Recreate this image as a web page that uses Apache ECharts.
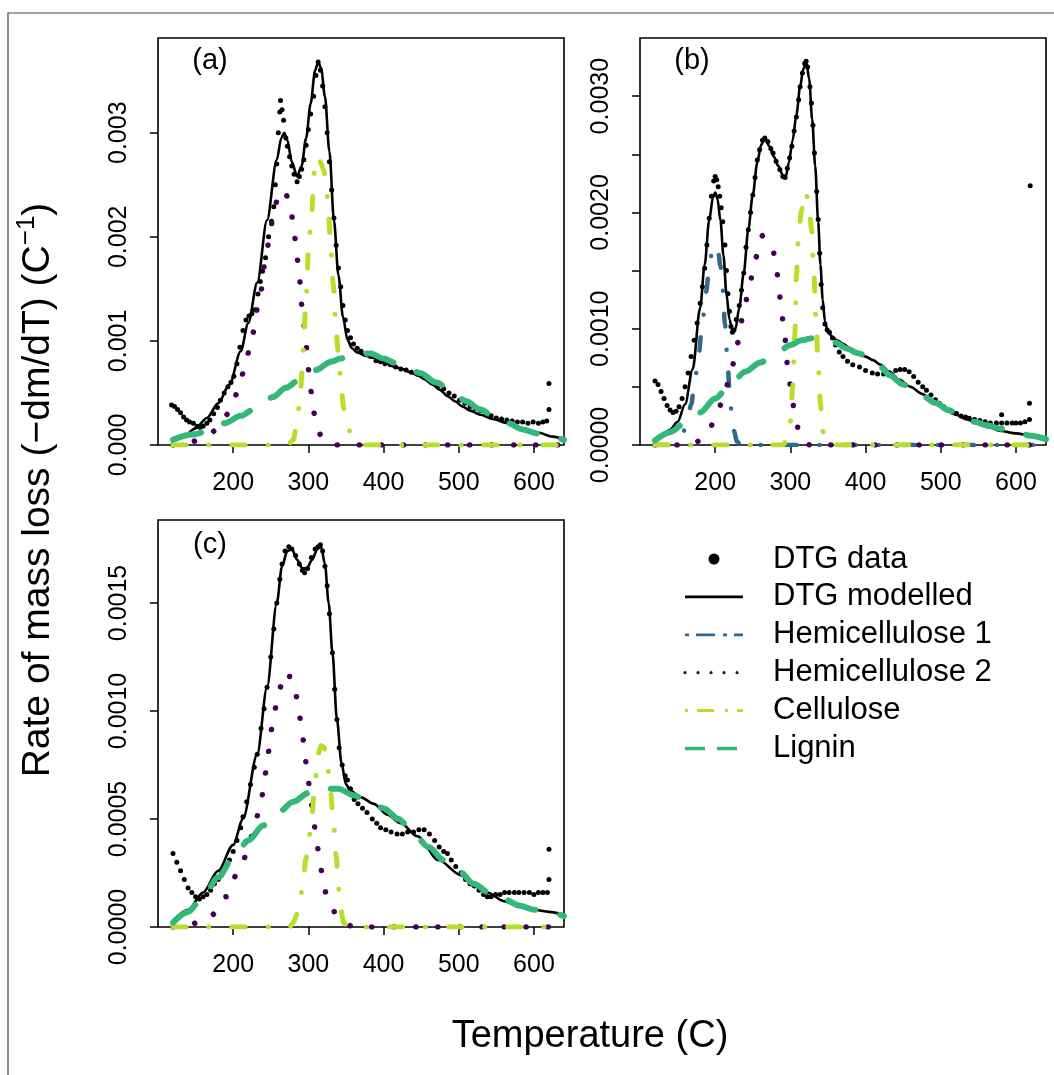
<!DOCTYPE html>
<html><head><meta charset="utf-8">
<script src="https://cdn.jsdelivr.net/npm/echarts@6/dist/echarts.min.js"></script>
<style>html,body{margin:0;padding:0;background:#fff}#chart{width:1054px;height:1075px}</style>
</head><body><div id="chart"></div>
<script>
// ---------- tick values / labels ----------
const xTicks = [200, 300, 400, 500, 600];
const xTickLabels = ['200', '300', '400', '500', '600'];
const yTicksA = [0, 0.001, 0.002, 0.003];
const yTickLabelsA = ['0.000', '0.001', '0.002', '0.003'];
const yTicksB = [0, 0.0005, 0.001, 0.0015, 0.002, 0.0025, 0.003];
const yTickLabelsB = ['0.0000', '', '0.0010', '', '0.0020', '', '0.0030'];
const yTicksC = [0, 0.0005, 0.001, 0.0015];
const yTickLabelsC = ['0.0000', '0.0005', '0.0010', '0.0015'];
const panelLabels = ['(a)', '(b)', '(c)'];
const legendLabels = ['DTG data', 'DTG modelled', 'Hemicellulose 1', 'Hemicellulose 2', 'Cellulose', 'Lignin'];

// ---------- panel (a) ----------
const dtgDataA = [[118,0.000385],[122,0.00037],[126,0.00034],[130,0.00031],[134,0.00027],[138,0.00024],[142,0.00022],[147,0.00021],[152,0.00018],[156,0.00017],[160,0.00018],[165,0.00021],[169,0.00024],[174,0.0003],[179,0.00036],[183,0.00043],[188,0.0005],[193,0.00056],[197,0.0006],[201,0.00066],[205,0.00078],[209,0.00094],[213,0.0011],[217,0.0012],[221,0.00124],[225,0.00126],[229,0.0013],[233,0.00145],[236,0.00157],[239,0.00167],[243,0.0018],[247,0.002],[251,0.00215],[254,0.00229],[256,0.0025],[258,0.0027],[260,0.003],[262,0.0032],[263,0.00331],[265,0.00322],[267,0.00312],[270,0.00295],[272,0.00287],[275,0.00277],[278,0.00268],[281,0.0026],[285,0.00253],[288,0.00258],[291,0.00265],[294,0.00274],[297,0.00288],[300,0.00303],[303,0.00318],[307,0.00335],[310,0.00355],[313,0.00368],[316,0.0036],[319,0.00345],[322,0.00325],[325,0.003],[328,0.00272],[331,0.00245],[334,0.00218],[337,0.00192],[340,0.0017],[343,0.00152],[346,0.00134],[349,0.0012],[352,0.0011],[356,0.00103],[360,0.00097],[365,0.00093],[370,0.0009],[376,0.00087],[383,0.00085],[390,0.00081],[396,0.0008],[402,0.00078],[409,0.00077],[416,0.00075],[423,0.00073],[430,0.00072],[437,0.0007],[445,0.00068],[452,0.00066],[459,0.00063],[466,0.0006],[473,0.00057],[480,0.00054],[487,0.0005],[494,0.00047],[501,0.00043],[508,0.0004],[515,0.00037],[522,0.00035],[529,0.00033],[536,0.0003],[543,0.00028],[550,0.00026],[557,0.00025],[564,0.00024],[571,0.00023],[578,0.00022],[585,0.00022],[592,0.00021],[599,0.00022],[606,0.00021],[612,0.00022],[617,0.00023],[620,0.00034],[620,0.00059]];
const modelA = [[120,0.00004],[135,0.00009],[150,0.00016],[165,0.00026],[180,0.0004],[195,0.00058],[210,0.0009],[220,0.00117],[232,0.00156],[245,0.00216],[258,0.00274],[264,0.00295],[268,0.003],[272,0.00293],[278,0.00272],[285,0.00258],[291,0.00268],[297,0.00295],[303,0.00328],[309,0.0036],[313,0.00368],[317,0.00362],[322,0.00335],[328,0.00282],[334,0.00216],[340,0.00163],[346,0.00123],[352,0.00101],[358,0.00093],[365,0.00089],[375,0.00086],[385,0.00084],[395,0.00081],[405,0.00078],[415,0.00075],[425,0.00073],[435,0.0007],[445,0.00067],[455,0.00063],[465,0.00058],[475,0.00053],[485,0.00047],[495,0.00042],[505,0.00037],[515,0.00033],[529,0.00029],[545,0.00025],[565,0.00021],[585,0.00016],[605,0.00012],[625,0.00008],[640,0.00005]];
const hemi2A = [[120,0],[140,0.00001],[150,0.00004],[160,0.00007],[170,0.00011],[176,0.00014],[185,0.00021],[194,0.00031],[200,0.0004],[205,0.0005],[215,0.00072],[225,0.00105],[235,0.0014],[243,0.00177],[248,0.00198],[253,0.00219],[260,0.0024],[267,0.00245],[275,0.00235],[280,0.00213],[284,0.00188],[288,0.0016],[292,0.0013],[297,0.00095],[302,0.00063],[305,0.00043],[308,0.0003],[311,0.0002],[316,0.0001],[324,0.00003],[332,0],[640,0]];
const celluloseA = [[120,0],[272,0],[280,0.00005],[285,0.00022],[289,0.00045],[293,0.0009],[297,0.0014],[300,0.00185],[304,0.0022],[308,0.00262],[312,0.00277],[316,0.00272],[320,0.00265],[324,0.0025],[327,0.0022],[330,0.00185],[333,0.00155],[337,0.0011],[340,0.00085],[343,0.00063],[347,0.00035],[352,0.00018],[357,0.0001],[362,0.00005],[368,0.00002],[376,0],[640,0]];
const ligninA = [[120,0.00005],[145,0.0001],[165,0.00013],[189,0.00021],[210,0.00028],[227,0.00034],[253,0.00046],[270,0.00055],[289,0.00063],[310,0.00072],[330,0.0008],[343,0.00083],[355,0.00086],[370,0.00088],[383,0.00088],[400,0.00083],[415,0.00079],[427,0.00076],[449,0.00069],[470,0.0006],[493,0.0005],[510,0.00042],[529,0.00034],[547,0.00027],[565,0.00021],[585,0.00015],[605,0.00011],[627,0.00007],[640,0.00005]];

// ---------- panel (b) ----------
const dtgDataB = [[120,0.00055],[124,0.00052],[128,0.00046],[132,0.0004],[136,0.00034],[140,0.0003],[144,0.00028],[148,0.00029],[152,0.00033],[156,0.0004],[160,0.0005],[164,0.00062],[168,0.00076],[172,0.0009],[176,0.00105],[180,0.00122],[183,0.00136],[186,0.00152],[189,0.00172],[192,0.00195],[195,0.00214],[198,0.00227],[200,0.00231],[202,0.00228],[204,0.00222],[206,0.00214],[208,0.00204],[210,0.00192],[213,0.00172],[215,0.0015],[217,0.0013],[219,0.00115],[221,0.00102],[223,0.00097],[225,0.00099],[228,0.00108],[232,0.0012],[235,0.00133],[238,0.00148],[241,0.0017],[244,0.00185],[247,0.002],[250,0.00215],[253,0.0023],[256,0.00245],[259,0.00254],[263,0.00262],[266,0.00264],[270,0.00261],[274,0.00255],[277,0.00251],[281,0.00244],[286,0.00237],[290,0.00231],[293,0.0023],[296,0.00238],[299,0.00247],[302,0.00257],[305,0.0027],[308,0.00282],[311,0.00297],[313,0.00308],[316,0.0032],[319,0.00328],[321,0.0033],[323,0.00325],[326,0.00308],[328,0.00294],[330,0.00275],[332,0.00251],[335,0.00218],[337,0.00194],[339,0.00165],[341,0.00138],[343,0.00118],[346,0.00104],[349,0.00099],[352,0.00097],[356,0.00092],[360,0.00086],[365,0.0008],[370,0.00076],[376,0.00072],[383,0.00069],[392,0.00067],[400,0.00064],[409,0.00062],[416,0.00061],[424,0.00061],[432,0.00062],[440,0.00064],[446,0.00065],[452,0.00065],[458,0.00063],[464,0.00059],[470,0.00054],[476,0.0005],[481,0.00047],[487,0.00043],[493,0.00039],[498,0.00036],[504,0.00033],[510,0.0003],[516,0.00028],[521,0.00027],[527,0.00025],[533,0.00024],[538,0.00023],[545,0.00022],[552,0.00021],[559,0.0002],[566,0.00019],[574,0.00019],[581,0.00019],[588,0.00019],[595,0.00019],[600,0.00019],[606,0.00019],[612,0.0002],[618,0.00022],[581,0.00026],[618,0.00036],[619,0.00223]];
const modelB = [[120,0.00005],[130,0.00008],[140,0.00013],[150,0.0002],[160,0.00035],[170,0.00065],[180,0.00118],[186,0.00155],[192,0.00193],[197,0.00213],[200,0.00217],[203,0.00212],[207,0.00193],[211,0.00163],[215,0.0013],[219,0.00108],[223,0.00098],[227,0.001],[232,0.00118],[238,0.00148],[244,0.00185],[250,0.00215],[256,0.00243],[261,0.00258],[266,0.00264],[272,0.00257],[278,0.00248],[284,0.0024],[290,0.00232],[294,0.00231],[298,0.00243],[303,0.00262],[308,0.00284],[313,0.00308],[317,0.00323],[321,0.0033],[325,0.00315],[329,0.0028],[333,0.0024],[337,0.00192],[340,0.00155],[343,0.00125],[346,0.00106],[350,0.00097],[356,0.00093],[362,0.0009],[370,0.00087],[380,0.00083],[390,0.00079],[400,0.00076],[410,0.00073],[420,0.00069],[432,0.00063],[445,0.00056],[460,0.0005],[475,0.00044],[490,0.00038],[505,0.00032],[520,0.00026],[535,0.00022],[550,0.00018],[565,0.00015],[580,0.00012],[600,0.0001],[620,0.00008],[640,0.00006]];
const hemi1B = [[120,0],[140,0],[146,0.00002],[152,0.00006],[158,0.00012],[163,0.0002],[168,0.00035],[173,0.00055],[178,0.00078],[183,0.00105],[188,0.00132],[192,0.00152],[196,0.00167],[200,0.00172],[204,0.00166],[207,0.00154],[210,0.00134],[213,0.00104],[216,0.00076],[219,0.00048],[222,0.00027],[225,0.00012],[229,0.00003],[234,0],[640,0]];
const hemi2B = [[120,0],[170,0],[180,0.00004],[190,0.00011],[200,0.00022],[210,0.00038],[220,0.0006],[230,0.00088],[238,0.00115],[245,0.00135],[250,0.00148],[255,0.00162],[263,0.0018],[270,0.00176],[277,0.00167],[282,0.00148],[287,0.00125],[292,0.00095],[297,0.00065],[302,0.0004],[307,0.00022],[312,0.0001],[318,0.00003],[326,0],[640,0]];
const celluloseB = [[120,0],[290,0],[296,0.00005],[300,0.0002],[303,0.0005],[306,0.00095],[308,0.00146],[311,0.00183],[315,0.00202],[318,0.00218],[322,0.00214],[325,0.00205],[328,0.00186],[331,0.0015],[334,0.0011],[337,0.0007],[340,0.00035],[343,0.00012],[347,0.00002],[352,0],[640,0]];
const ligninB = [[120,0.00004],[140,0.00011],[160,0.00019],[180,0.00028],[200,0.0004],[220,0.00052],[240,0.00063],[260,0.00071],[280,0.00078],[300,0.00086],[315,0.0009],[330,0.00092],[345,0.00091],[360,0.00088],[375,0.00083],[390,0.00079],[409,0.00073],[420,0.00067],[432,0.0006],[450,0.00052],[469,0.00045],[494,0.00036],[510,0.0003],[529,0.00023],[545,0.0002],[561,0.00017],[580,0.00014],[605,0.0001],[620,0.00008],[640,0.00005]];

// ---------- panel (c) ----------
const dtgDataC = [[120,0.00034],[125,0.0003],[130,0.00026],[135,0.00022],[140,0.00018],[145,0.00016],[150,0.00014],[155,0.00013],[160,0.00014],[165,0.00015],[170,0.00017],[175,0.0002],[180,0.00022],[185,0.00025],[190,0.00028],[195,0.00031],[200,0.00035],[205,0.0004],[210,0.00046],[213,0.00051],[218,0.00058],[223,0.00066],[228,0.00074],[232,0.0008],[237,0.00092],[241,0.00101],[245,0.00111],[250,0.00125],[254,0.00138],[258,0.0015],[262,0.00161],[265,0.00168],[269,0.00174],[274,0.00176],[278,0.00175],[283,0.00172],[288,0.00168],[292,0.00165],[295,0.00164],[299,0.00166],[304,0.00171],[309,0.00175],[313,0.00176],[316,0.00177],[319,0.00174],[322,0.00167],[325,0.00158],[328,0.00145],[332,0.00127],[335,0.0011],[338,0.00096],[341,0.00083],[345,0.00075],[349,0.0007],[352,0.00068],[356,0.00064],[361,0.00059],[366,0.00057],[372,0.00055],[378,0.00053],[385,0.0005],[391,0.00048],[396,0.00046],[403,0.00045],[410,0.00044],[418,0.00043],[425,0.00043],[432,0.00044],[440,0.00044],[447,0.00045],[454,0.00045],[461,0.00043],[468,0.0004],[474,0.00037],[480,0.00035],[485,0.00034],[490,0.00031],[496,0.00028],[503,0.00025],[509,0.00022],[515,0.0002],[521,0.00019],[527,0.00017],[533,0.00015],[538,0.00014],[543,0.00014],[549,0.00015],[555,0.00015],[561,0.00016],[567,0.00016],[574,0.00016],[580,0.00016],[587,0.00016],[594,0.00016],[600,0.00015],[606,0.00016],[612,0.00016],[618,0.00016],[620,0.00022],[620,0.00036]];
const modelC = [[120,0.00003],[140,0.00008],[160,0.00016],[180,0.00026],[200,0.00038],[213,0.0005],[232,0.0008],[245,0.00111],[258,0.0015],[265,0.00167],[272,0.00174],[278,0.00175],[285,0.0017],[292,0.00166],[298,0.00166],[305,0.0017],[312,0.00175],[317,0.00176],[322,0.00168],[327,0.0015],[332,0.00127],[338,0.00096],[344,0.00076],[350,0.00066],[356,0.00063],[370,0.0006],[387,0.00057],[405,0.00052],[423,0.00048],[445,0.00042],[473,0.00031],[503,0.00024],[520,0.00019],[538,0.00016],[560,0.00012],[578,0.0001],[600,0.00008],[620,0.00007],[640,0.000056]];
const hemi2C = [[120,0],[160,0.00002],[170,0.00005],[190,0.00014],[210,0.00028],[225,0.00042],[237,0.00057],[241,0.00067],[246,0.00078],[249,0.00088],[254,0.00098],[260,0.00108],[268,0.00118],[275,0.00116],[282,0.00111],[287,0.001],[292,0.0009],[295,0.0008],[299,0.0007],[303,0.0006],[307,0.00049],[311,0.00039],[316,0.00028],[321,0.00018],[326,0.00012],[332,0.00008],[340,0.00004],[352,0.00001],[360,0],[640,0]];
const celluloseC = [[120,0],[275,0],[280,0.00002],[285,0.00006],[289,0.00012],[293,0.00022],[297,0.00032],[301,0.00042],[305,0.00053],[309,0.00068],[313,0.0008],[317,0.00084],[321,0.00083],[325,0.00076],[329,0.00065],[333,0.0005],[337,0.00033],[340,0.00018],[343,0.00008],[347,0.00002],[352,0],[640,0]];
const ligninC = [[120,0.00002],[140,0.00007],[160,0.00014],[180,0.00023],[200,0.00032],[220,0.0004],[240,0.00047],[260,0.00053],[280,0.00058],[300,0.00062],[320,0.00064],[340,0.00064],[360,0.00061],[380,0.00058],[400,0.00055],[420,0.0005],[440,0.00043],[460,0.00037],[480,0.00031],[500,0.00026],[520,0.0002],[540,0.00016],[560,0.00013],[580,0.0001],[600,0.00008],[620,0.00007],[640,0.00005]];

// ---------- layout & styles ----------
const FONT = '"Liberation Sans", Arial, Helvetica, sans-serif';
const X_MIN = 100, X_MAX = 640;
const Y_MAX = [0.00391, 0.0035, 0.001884];
const GRIDS = [
  {left: 158, top: 38, width: 406, height: 407},
  {left: 640, top: 38, width: 406, height: 407},
  {left: 158, top: 520, width: 406, height: 407}
];
const STYLE = {
  hemi1: {color: '#31688E', width: 4.5, type: [13, 23, 0.01, 23], cap: 'round'},
  hemi2: {color: '#440154', width: 5.5, type: [0.01, 22], cap: 'round'},
  cell:  {color: '#B8DE29', width: 5, type: [13, 23, 0.01, 23], cap: 'round'},
  lignin:{color: '#35B779', width: 6, type: [29, 25], cap: 'round'}
};

const yTickSets = [[yTicksA, yTickLabelsA], [yTicksB, yTickLabelsB], [yTicksC, yTickLabelsC]];
const panels = [
  {dtg: dtgDataA, model: modelA, comps: [['hemi2', hemi2A], ['cell', celluloseA], ['lignin', ligninA]]},
  {dtg: dtgDataB, model: modelB, comps: [['hemi1', hemi1B], ['hemi2', hemi2B], ['cell', celluloseB], ['lignin', ligninB]]},
  {dtg: dtgDataC, model: modelC, comps: [['hemi2', hemi2C], ['cell', celluloseC], ['lignin', ligninC]]}
];

function lookup(ticks, labels, v) {
  for (let i = 0; i < ticks.length; i++) {
    const tol = Math.max(Math.abs(ticks[i]), 1e-3) * 1e-6;
    if (Math.abs(ticks[i] - v) <= tol) return labels[i];
  }
  return '';
}

const grid = GRIDS.map(g => Object.assign({}, g, {show: true, borderColor: '#000', borderWidth: 1.6, backgroundColor: 'transparent', containLabel: false}));
const xAxis = GRIDS.map((g, i) => ({
  type: 'value', gridIndex: i, min: X_MIN, max: X_MAX, interval: 100,
  axisLine: {show: false},
  axisTick: {show: true, length: 8, inside: false, lineStyle: {color: '#000', width: 1.5}, customValues: xTicks},
  axisLabel: {customValues: xTicks, color: '#000', fontSize: 25, fontFamily: FONT, margin: 26,
    formatter: v => lookup(xTicks, xTickLabels, v)},
  splitLine: {show: false}
}));
const yAxis = GRIDS.map((g, i) => ({
  type: 'value', gridIndex: i, min: 0, max: Y_MAX[i],
  axisLine: {show: false},
  axisTick: {show: true, length: 8, inside: false, lineStyle: {color: '#000', width: 1.5}, customValues: yTickSets[i][0]},
  axisLabel: {customValues: yTickSets[i][0], rotate: 90, color: '#000', fontSize: 25, fontFamily: FONT, margin: 26,
    formatter: v => lookup(yTickSets[i][0], yTickSets[i][1], v)},
  splitLine: {show: false}
}));

const series = [];
panels.forEach((p, i) => {
  series.push({type: 'scatter', xAxisIndex: i, yAxisIndex: i, data: p.dtg, symbol: 'circle', symbolSize: 5,
    itemStyle: {color: '#000', opacity: 1}, z: 2, silent: true});
  series.push({type: 'line', xAxisIndex: i, yAxisIndex: i, data: p.model, symbol: 'none', smooth: 0.3, smoothMonotone: 'x',
    lineStyle: {color: '#000', width: 2.6}, z: 3, silent: true});
  p.comps.forEach(([key, d]) => {
    series.push({type: 'line', xAxisIndex: i, yAxisIndex: i, data: d, symbol: 'none', smooth: 0.3, smoothMonotone: 'x',
      lineStyle: Object.assign({}, STYLE[key]), z: 4, silent: true});
  });
});

// ---------- graphic: frame, panel labels, axis titles, legend ----------
const graphic = [];
graphic.push({type: 'rect', shape: {x: 8, y: 13, width: 1200, height: 1200}, style: {fill: 'none', stroke: '#444', lineWidth: 1.2}, silent: true, z: -1});
const panelLabelPos = [[210, 61], [692, 61], [210, 545]];
panelLabels.forEach((t, i) => graphic.push({type: 'text', x: panelLabelPos[i][0], y: panelLabelPos[i][1],
  style: {text: t, font: '29px ' + FONT, fill: '#000', align: 'center', verticalAlign: 'middle'}}));
graphic.push({type: 'text', x: 590, y: 1037, style: {text: 'Temperature (C)', font: '38px ' + FONT, fill: '#000', align: 'center', verticalAlign: 'middle'}});
graphic.push({type: 'text', x: 38, y: 490, rotation: Math.PI / 2,
  style: {text: '{a|Rate of mass loss (\u2212dm/dT) (C}{b|\u22121}{a|)}', align: 'center', verticalAlign: 'middle', fill: '#000',
    rich: {a: {fontSize: 39, fontFamily: FONT, lineHeight: 48, fill: '#000'}, b: {fontSize: 26, fontFamily: FONT, lineHeight: 22, verticalAlign: 'top', fill: '#000'}}}});

const LEG_Y0 = 559, LEG_DY = 37.9, LEG_X1 = 685, LEG_X2 = 743, LEG_TX = 773;
const legendStyles = [
  null,
  {stroke: '#000', lineWidth: 2.6},
  {stroke: '#31688E', lineWidth: 2.8, lineDash: [4, 7, 19, 8]},
  {stroke: '#440154', lineWidth: 3.2, lineDash: [0.01, 13], lineCap: 'round'},
  {stroke: '#B8DE29', lineWidth: 3, lineDash: [3, 9, 17, 11]},
  {stroke: '#35B779', lineWidth: 3.5, lineDash: [20, 12]}
];
legendLabels.forEach((t, i) => {
  const y = LEG_Y0 + i * LEG_DY;
  if (i === 0) graphic.push({type: 'circle', shape: {cx: 714, cy: y, r: 5.5}, style: {fill: '#000'}});
  else graphic.push({type: 'line', shape: {x1: LEG_X1, y1: y, x2: LEG_X2, y2: y}, style: Object.assign({fill: 'none'}, legendStyles[i])});
  graphic.push({type: 'text', x: LEG_TX, y: y, style: {text: t, font: '31px ' + FONT, fill: '#000', align: 'left', verticalAlign: 'middle'}});
});

const chart = echarts.init(document.getElementById('chart'), null, {renderer: 'canvas'});
chart.setOption({animation: false, backgroundColor: '#fff', grid, xAxis, yAxis, series, graphic});
</script></body></html>
